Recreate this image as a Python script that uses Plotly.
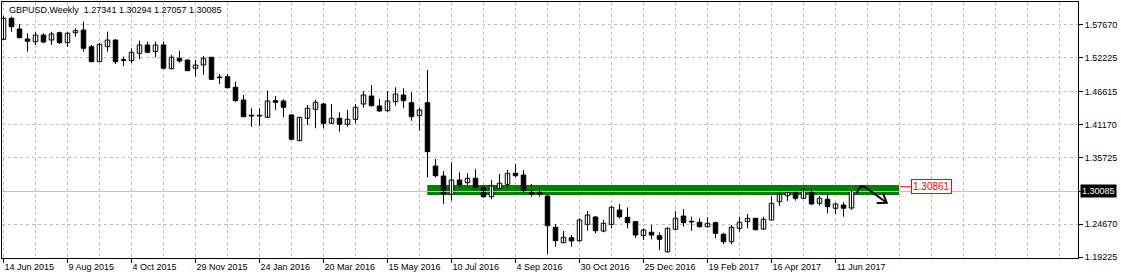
import pandas as pd
import plotly.graph_objects as go

# ---------------- data (weekly GBPUSD candles) ----------------
start_date = "2015-06-14"

opens = [1.5530, 1.5878, 1.5701, 1.5535, 1.5490, 1.5601, 1.5518, 1.5639, 1.5474, 1.5639,
         1.5684, 1.5407, 1.5159, 1.5407, 1.5518, 1.5192, 1.5175, 1.5298, 1.5436, 1.5325,
         1.5436, 1.5043, 1.5215, 1.5187, 1.5050, 1.5104, 1.5232, 1.4905, 1.4910, 1.4735,
         1.4524, 1.4271, 1.4259, 1.4238, 1.4513, 1.4508, 1.4276, 1.3850, 1.4221, 1.4370,
         1.4458, 1.4138, 1.4221, 1.4122, 1.4204, 1.4458, 1.4591, 1.4425, 1.4347, 1.4496,
         1.4607, 1.4480, 1.4264, 1.4480, 1.3431, 1.3265, 1.2962, 1.3199, 1.3154, 1.3227,
         1.3078, 1.2922, 1.3061, 1.3127, 1.3310, 1.3281, 1.3016, 1.3005, 1.2933, 1.2415,
         1.2160, 1.2242, 1.2193, 1.2464, 1.2585, 1.2353, 1.2464, 1.2701, 1.2580, 1.2508,
         1.2276, 1.2332, 1.2276, 1.2010, 1.2382, 1.2602, 1.2514, 1.2498, 1.2425, 1.2491,
         1.2299, 1.2176, 1.2398, 1.2508, 1.2564, 1.2386, 1.2536, 1.2839, 1.2938, 1.2995,
         1.2895, 1.3005, 1.2812, 1.2879, 1.2730, 1.2784, 1.27341]

highs = [1.5916, 1.5905, 1.5784, 1.5630, 1.5656, 1.5630, 1.5656, 1.5656, 1.5656, 1.5712,
         1.5822, 1.5436, 1.5464, 1.5656, 1.5530, 1.5242, 1.5381, 1.5507, 1.5490, 1.5490,
         1.5490, 1.5270, 1.5336, 1.5199, 1.5187, 1.5253, 1.5237, 1.4955, 1.4955, 1.4828,
         1.4607, 1.4387, 1.4387, 1.4678, 1.4591, 1.4536, 1.4292, 1.4243, 1.4441, 1.4524,
         1.4480, 1.4458, 1.4320, 1.4359, 1.4458, 1.4673, 1.4773, 1.4541, 1.4673, 1.4735,
         1.4718, 1.4652, 1.4397, 1.5021, 1.3547, 1.3348, 1.3492, 1.3326, 1.3310, 1.3381,
         1.3088, 1.3199, 1.3298, 1.3364, 1.3464, 1.3364, 1.3132, 1.3078, 1.2967, 1.2469,
         1.2353, 1.2287, 1.2564, 1.2685, 1.2602, 1.2536, 1.2773, 1.2801, 1.2746, 1.2519,
         1.2398, 1.2453, 1.2332, 1.2415, 1.2685, 1.2713, 1.2590, 1.2564, 1.2580, 1.2508,
         1.2325, 1.2453, 1.2590, 1.2635, 1.2569, 1.2590, 1.2922, 1.3005, 1.3000, 1.3005,
         1.3061, 1.3061, 1.2933, 1.2988, 1.2822, 1.2829, 1.30294]

lows = [1.5518, 1.5656, 1.5547, 1.5325, 1.5436, 1.5464, 1.5436, 1.5452, 1.5407, 1.5573,
        1.5325, 1.5154, 1.5154, 1.5325, 1.5121, 1.5088, 1.5132, 1.5199, 1.5298, 1.5232,
        1.5033, 1.5033, 1.5142, 1.5005, 1.4910, 1.4939, 1.4856, 1.4789, 1.4718, 1.4496,
        1.4238, 1.4082, 1.4093, 1.4231, 1.4359, 1.4238, 1.3856, 1.3840, 1.4110, 1.4055,
        1.4055, 1.4127, 1.3999, 1.4082, 1.4138, 1.4397, 1.4413, 1.4330, 1.4330, 1.4430,
        1.4387, 1.4181, 1.4016, 1.3243, 1.3243, 1.2801, 1.2856, 1.3071, 1.3071, 1.3061,
        1.2905, 1.2879, 1.3049, 1.3071, 1.3243, 1.3000, 1.2922, 1.2922, 1.1972, 1.2093,
        1.2150, 1.2093, 1.2176, 1.2358, 1.2315, 1.2332, 1.2398, 1.2564, 1.2398, 1.2242,
        1.2204, 1.2216, 1.2039, 1.1994, 1.2370, 1.2425, 1.2358, 1.2408, 1.2408, 1.2233,
        1.2138, 1.2138, 1.2342, 1.2398, 1.2365, 1.2370, 1.2524, 1.2773, 1.2851, 1.2856,
        1.2879, 1.2784, 1.2773, 1.2647, 1.2635, 1.2590, 1.27057]

closes = [1.5878, 1.5739, 1.5557, 1.5497, 1.5601, 1.5485, 1.5618, 1.5474, 1.5630, 1.5673,
          1.5381, 1.5159, 1.5447, 1.5518, 1.5159, 1.5182, 1.5315, 1.5436, 1.5315, 1.5436,
          1.5050, 1.5232, 1.5171, 1.5010, 1.5104, 1.5215, 1.4867, 1.4894, 1.4728, 1.4513,
          1.4248, 1.4259, 1.4271, 1.4508, 1.4486, 1.4403, 1.3873, 1.4238, 1.4387, 1.4486,
          1.4138, 1.4221, 1.4122, 1.4204, 1.4403, 1.4607, 1.4430, 1.4342, 1.4508, 1.4624,
          1.4513, 1.4248, 1.4359, 1.3668, 1.3270, 1.2962, 1.3199, 1.3116, 1.3227, 1.3071,
          1.2922, 1.3099, 1.3144, 1.3310, 1.3270, 1.3005, 1.2967, 1.2967, 1.2441, 1.2193,
          1.2249, 1.2188, 1.2536, 1.2619, 1.2358, 1.2481, 1.2746, 1.2590, 1.2491, 1.2287,
          1.2370, 1.2287, 1.2216, 1.2398, 1.2564, 1.2491, 1.2503, 1.2425, 1.2481, 1.2315,
          1.2176, 1.2415, 1.2498, 1.2564, 1.2375, 1.2547, 1.2812, 1.2962, 1.2995, 1.2895,
          1.3033, 1.2801, 1.2895, 1.2756, 1.2801, 1.2730, 1.30085]

x_tick_labels = ["14 Jun 2015", "9 Aug 2015", "4 Oct 2015", "29 Nov 2015", "24 Jan 2016",
                 "20 Mar 2016", "15 May 2016", "10 Jul 2016", "4 Sep 2016", "30 Oct 2016",
                 "25 Dec 2016", "19 Feb 2017", "16 Apr 2017", "11 Jun 2017"]
y_tick_vals = [1.19225, 1.24670, 1.30085, 1.35725, 1.41170, 1.46615, 1.52225, 1.57670]
y_tick_text = ["1.19225", "1.24670", "", "1.35725", "1.41170", "1.46615", "1.52225", "1.57670"]

title_text = "GBPUSD,Weekly\u00a0 1.27341 1.30294 1.27057 1.30085"
bid_price = 1.30085
bid_text = "1.30085"
zone_low, zone_high = 1.2950, 1.3116
level_price = 1.30861
level_text = "1.30861"

# ---------------- helpers ----------------
start = pd.Timestamp(start_date)


def wk(k):
    """timestamp k weeks after the first bar"""
    return start + pd.Timedelta(days=7 * k)


dates = [wk(i) for i in range(len(opens))]
FONT = "Liberation Sans, Arial, sans-serif"
GRID = "#c0c0c0"
body_width_ms = 3.9375 * 86400000
x_left, x_right = wk(-0.1875), wk(134.31)

fig = go.Figure()

# bid (current price) line, drawn above the zone rectangle, below the candles
fig.add_trace(go.Scatter(x=[x_left, x_right], y=[bid_price, bid_price], mode="lines",
                         line=dict(color=GRID, width=1), hoverinfo="skip", showlegend=False))

# wicks
wx, wy = [], []
for d, h, l in zip(dates, highs, lows):
    wx += [d, d, None]
    wy += [l, h, None]
fig.add_trace(go.Scatter(x=wx, y=wy, mode="lines", line=dict(color="black", width=1),
                         hoverinfo="skip", showlegend=False))

# bodies
for up in (True, False):
    bx, base, hgt = [], [], []
    for d, o, c in zip(dates, opens, closes):
        if (c >= o) == up:
            bx.append(d)
            base.append(min(o, c))
            hgt.append(max(abs(c - o), 0.00003))
    fig.add_trace(go.Bar(x=bx, y=hgt, base=base, width=body_width_ms,
                         marker=dict(color="white" if up else "black",
                                     line=dict(color="black", width=1)),
                         showlegend=False, hoverinfo="skip"))

# hand drawn arrow (drawing object)
arrow_w = [106.65, 106.88, 107.19, 107.56, 110.40, None, 109.94, 110.40, 109.15]
arrow_p = [1.2978, 1.3049, 1.3091, 1.3094, 1.2822, None, 1.2977, 1.2822, 1.2817]
fig.add_trace(go.Scatter(x=[wk(k) if k is not None else None for k in arrow_w], y=arrow_p,
                         mode="lines", line=dict(color="black", width=2),
                         hoverinfo="skip", showlegend=False))

shapes = [
    dict(type="rect", xref="x", yref="y", x0=wk(52.97), x1=wk(111.94), y0=zone_low, y1=zone_high,
         fillcolor="#008000", line=dict(width=0), layer="between"),
    dict(type="line", xref="x", yref="y", x0=wk(112.06), x1=wk(113.44), y0=level_price, y1=level_price,
         line=dict(color="red", width=1)),
]

annotations = [
    dict(text=title_text, xref="paper", yref="paper", x=0.0046, y=0.969, xanchor="left",
         yanchor="middle", showarrow=False, font=dict(family=FONT, size=9, color="black")),
    dict(text=bid_text, xref="paper", yref="y", x=1, xshift=2, y=bid_price, xanchor="left",
         yanchor="middle", showarrow=False, bgcolor="black", borderpad=1,
         font=dict(family=FONT, size=9, color="white")),
    dict(text=level_text, xref="x", yref="y", x=wk(113.44), y=level_price, xanchor="left",
         yanchor="middle", showarrow=False, bgcolor="white", bordercolor="red", borderwidth=1,
         borderpad=1, font=dict(family=FONT, size=10, color="red")),
]

fig.update_layout(
    width=1121, height=280,
    margin=dict(l=2, r=43, t=2, b=22),
    paper_bgcolor="white", plot_bgcolor="white",
    barmode="overlay", showlegend=False,
    font=dict(family=FONT, size=9, color="black"),
    shapes=shapes, annotations=annotations,
    xaxis=dict(
        type="date", range=[x_left, x_right],
        tickmode="array", tickvals=[wk(8 * i) for i in range(len(x_tick_labels))],
        ticktext=x_tick_labels, ticks="outside", ticklen=4, tickcolor="black",
        ticklabelposition="outside right",
        showgrid=True, gridcolor=GRID, griddash="3px,3px", gridwidth=1,
        minor=dict(tick0=wk(0), dtick=28 * 86400000, showgrid=True, gridcolor=GRID,
                   griddash="3px,3px", ticks=""),
        showline=True, linecolor="black", linewidth=1, mirror=True, zeroline=False,
        tickfont=dict(family=FONT, size=9, color="black"),
    ),
    yaxis=dict(
        side="right", range=[1.1906, 1.6148],
        tickmode="array", tickvals=y_tick_vals, ticktext=y_tick_text,
        ticks="outside", ticklen=4, tickcolor="black",
        showgrid=True, gridcolor=GRID, griddash="3px,3px", gridwidth=1,
        showline=True, linecolor="black", linewidth=1, mirror=True, zeroline=False,
        tickfont=dict(family=FONT, size=9, color="black"),
    ),
)

fig.write_html("out.html")
